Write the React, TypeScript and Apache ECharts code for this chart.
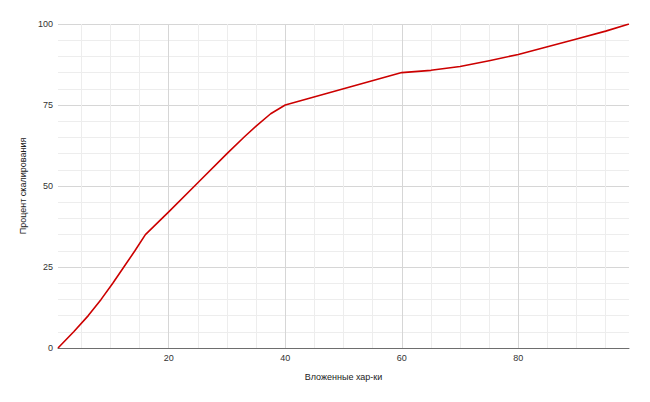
import React, { useEffect, useRef } from "react";
import * as echarts from "echarts";

const xValues = [1, 3.7, 6.2, 8.4, 10.4, 12.3, 14.2, 16, 20, 25, 30, 33, 35, 37.5, 40, 60, 65, 70, 75, 80, 85, 90, 95, 99];
const yValues = [0, 5, 10, 15, 20, 25, 30, 35, 42, 51, 60, 65.2, 68.5, 72.3, 75, 85, 85.7, 86.9, 88.65, 90.6, 93, 95.4, 97.8, 100];
const xTickLabels = [20, 40, 60, 80];
const yTickLabels = [0, 25, 50, 75, 100];

const xAxisName = "Вложенные хар-ки";
const yAxisName = "Процент скалирования";

const MAJOR = "#d6d6d6";
const MINOR = "#ededed";
const NONE = "rgba(0,0,0,0)";

export default function App() {
  const ref = useRef<HTMLDivElement>(null);
  useEffect(() => {
    if (!ref.current) return;
    const chart = echarts.init(ref.current, undefined, { renderer: "svg" });
    const xColors: string[] = [];
    for (let i = 0; i < 20; i++) {
      const v = i + 1;
      if (v === 20) xColors.push(MAJOR);
      else if (v % 5 === 0) xColors.push(MINOR);
      else xColors.push(NONE);
    }
    const font = "Arial, 'Liberation Sans', sans-serif";
    chart.setOption({
      animation: false,
      backgroundColor: "#ffffff",
      grid: { left: 58, right: 21, top: 24, bottom: 54, containLabel: false },
      xAxis: {
        type: "value",
        min: 1,
        max: 99,
        interval: 1,
        name: xAxisName,
        nameLocation: "middle",
        nameGap: 24,
        nameTextStyle: { color: "#222", fontSize: 9, fontFamily: font },
        axisLine: { show: true, lineStyle: { color: "#6e6e6e", width: 1 } },
        axisTick: { show: false },
        axisLabel: {
          color: "#333",
          fontSize: 9,
          fontFamily: font,
          margin: 5,
          showMinLabel: false,
          showMaxLabel: false,
          formatter: (v: number) => (xTickLabels.includes(v) ? String(v) : ""),
        },
        splitLine: { show: true, lineStyle: { color: xColors, width: 1 } },
      },
      yAxis: {
        type: "value",
        min: 0,
        max: 100,
        interval: 5,
        name: yAxisName,
        nameLocation: "middle",
        nameGap: 31,
        nameTextStyle: { color: "#222", fontSize: 9, fontFamily: font },
        axisLine: { show: false },
        axisTick: { show: false },
        axisLabel: {
          color: "#333",
          fontSize: 9,
          fontFamily: font,
          margin: 5,
          formatter: (v: number) => (yTickLabels.includes(v) ? String(v) : ""),
        },
        splitLine: { show: true, lineStyle: { color: [MAJOR, MINOR, MINOR, MINOR, MINOR], width: 1 } },
      },
      series: [
        {
          type: "line",
          data: xValues.map((x, i) => [x, yValues[i]]),
          showSymbol: false,
          symbol: "none",
          smooth: false,
          lineStyle: { color: "#cc0000", width: 1.6, join: "round" },
        },
      ],
    });
    return () => chart.dispose();
  }, []);
  return <div ref={ref} style={{ width: 650, height: 402, position: "absolute", left: 0, top: 0 }} />;
}
